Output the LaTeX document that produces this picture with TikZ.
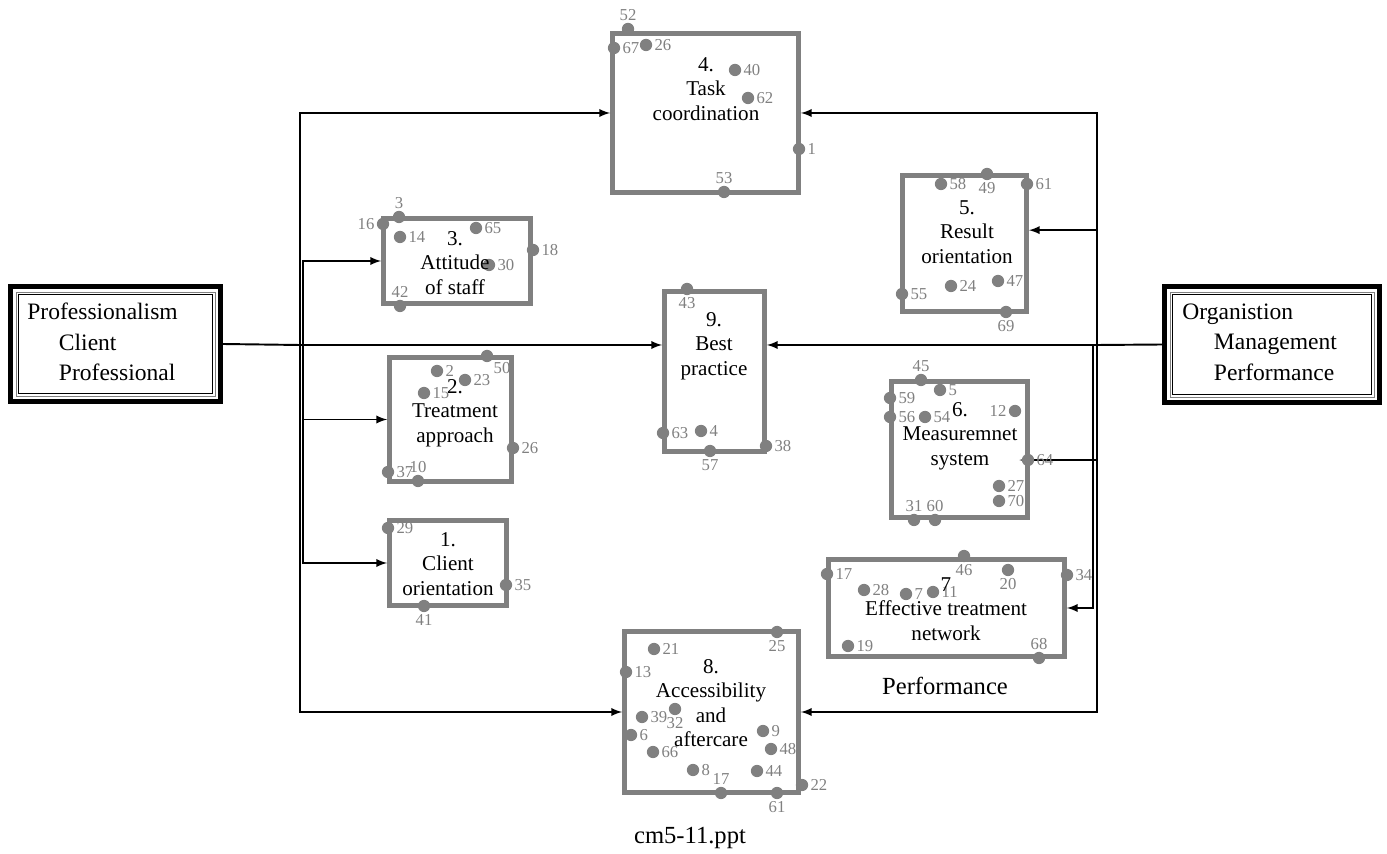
\documentclass[tikz,border=0pt]{standalone}
\usepackage{fontspec}
\setmainfont{Liberation Serif}
\definecolor{boxgray}{RGB}{128,128,128}

\begin{document}
\begin{tikzpicture}
[
	x=0.02cm,
	y=-0.02cm,
	>=latex,
	cbox/.style={draw=boxgray,line width=2.8pt,fill=white,inner sep=0pt},
	bigbox/.style={draw,line width=2.8pt,fill=white,inner sep=0pt},
	closedpt/.style={circle,fill=boxgray,inner sep=0pt,minimum size=7pt},
	numlab/.style={text=boxgray,font=\fontsize{9.5}{10}\selectfont,inner sep=1pt},
	ttl/.style={align=center,font=\fontsize{12}{14}\selectfont,inner sep=0pt},
	bigtxt/.style={align=left,font=\fontsize{13.4}{17.3}\selectfont,anchor=west,inner sep=0pt},
	conn/.style={line width=1.1pt}
]

	\useasboundingbox (0,0) rectangle (1387,854);

	% the nine areas
	\node[cbox,minimum width=3.72cm,minimum height=3.18cm] (b4) at (705.5,113) {};
	\node[cbox,minimum width=2.94cm,minimum height=1.70cm] (b3) at (457,261) {};
	\node[cbox,minimum width=2.44cm,minimum height=2.48cm] (b2) at (450.5,419.5) {};
	\node[cbox,minimum width=2.34cm,minimum height=1.70cm] (b1) at (448,563) {};
	\node[cbox,minimum width=2.00cm,minimum height=3.20cm] (b9) at (714.5,371.5) {};
	\node[cbox,minimum width=2.48cm,minimum height=2.72cm] (b5) at (964.5,243.5) {};
	\node[cbox,minimum width=2.72cm,minimum height=2.72cm] (b6) at (959.5,449.5) {};
	\node[cbox,minimum width=4.72cm,minimum height=1.94cm] (b7) at (946.5,608) {};
	\node[cbox,minimum width=3.48cm,minimum height=3.22cm] (b8) at (711.5,712) {};

	% the two sources
	\node[bigbox,minimum width=4.20cm,minimum height=2.30cm] (bigL) at (115.5,344) {};
	\draw[boxgray,line width=0.5pt] ([shift={(8,8)}]bigL.north west) rectangle ([shift={(-8,-8)}]bigL.south east);
	\draw[line width=0.6pt] ([shift={(10.5,10.5)}]bigL.north west) rectangle ([shift={(-10.5,-10.5)}]bigL.south east);
	\node[bigbox,minimum width=4.30cm,minimum height=2.32cm] (bigR) at (1272,344.5) {};
	\draw[boxgray,line width=0.5pt] ([shift={(8,8)}]bigR.north west) rectangle ([shift={(-8,-8)}]bigR.south east);
	\draw[line width=0.6pt] ([shift={(10.5,10.5)}]bigR.north west) rectangle ([shift={(-10.5,-10.5)}]bigR.south east);

	\node[bigtxt] (tL) at (27,342) {Professionalism\\\hspace*{18pt}Client\\\hspace*{18pt}Professional};
	\node[bigtxt] (tR) at (1182,342) {Organistion\\\hspace*{18pt}Management\\\hspace*{18pt}Performance};

	% connectors, left
	\coordinate (jL) at (300,345);
	\coordinate (jL2) at (303,345);
	\draw[conn] (bigL.east) -- (jL);
	\draw[conn,->] (jL) -- (jL -| b9.west);
	\draw[conn,->] (jL) |- (b4.west);
	\draw[conn,->] (jL) |- (b8.west);
	\draw[conn,->] (jL2) |- (b3.west);
	\draw[conn,->] (jL2) |- (b2.west);
	\draw[conn,->] (jL2) |- (b1.west);

	% connectors, right
	\coordinate (jR) at (1097,345);
	\coordinate (jR2) at (1093,345);
	\draw[conn] (bigR.west) -- (jR);
	\draw[conn,->] (jR) -- (jR -| b9.east);
	\draw[conn,->] (jR) |- (b4.east);
	\draw[conn,->] (jR) |- (b8.east);
	\draw[conn,->] (jR) |- ([yshift=7.6pt]b5.east);
	\draw[conn,->] (jR) |- ([xshift=-6pt,yshift=-6pt]b6.east);
	\draw[conn,->] (jR2) |- (b7.east);

	% items
	\foreach \x/\y/\n/\p [count=\i] in {628/29/52/above,614/48/67/right,646/45/26/right,735/70/40/right,748/98/62/right,799/149/1/right,724/192/53/above}
		\node[closedpt,label={[numlab]\p:\n}] (d4-\i) at (\x,\y) {};
	\foreach \x/\y/\n/\p [count=\i] in {399/217/3/above,383/224/16/left,400/237/14/right,476/228/65/right,489/265/30/right,533/250/18/right,400/306/42/above}
		\node[closedpt,label={[numlab]\p:\n}] (d3-\i) at (\x,\y) {};
	\foreach \x/\y/\n/\p [count=\i] in {487/356/50/below right,437/371/2/right,465/380/23/right,424/393/15/right,513/448/26/right,388/472/37/right,418/481/10/above}
		\node[closedpt,label={[numlab]\p:\n}] (d2-\i) at (\x,\y) {};
	\foreach \x/\y/\n/\p [count=\i] in {388/528/29/right,506/585/35/right,424/606/41/below}
		\node[closedpt,label={[numlab]\p:\n}] (d1-\i) at (\x,\y) {};
	\foreach \x/\y/\n/\p [count=\i] in {687/289/43/below,663/433/63/right,701/431/4/right,710/451/57/below,766/446/38/right}
		\node[closedpt,label={[numlab]\p:\n}] (d9-\i) at (\x,\y) {};
	\foreach \x/\y/\n/\p [count=\i] in {941/184/58/right,987/174/49/below,1027/184/61/right,902/294/55/right,951/286/24/right,998/281/47/right,1006/312/69/below}
		\node[closedpt,label={[numlab]\p:\n}] (d5-\i) at (\x,\y) {};
	\foreach \x/\y/\n/\p [count=\i] in {921/380/45/above,940/390/5/right,890/398/59/right,890/417/56/right,925/417/54/right,1015/411/12/left,1028/460/64/right,999/486/27/right,999/501/70/right,914/520/31/above,935/520/60/above}
		\node[closedpt,label={[numlab]\p:\n}] (d6-\i) at (\x,\y) {};
	\foreach \x/\y/\n/\p [count=\i] in {964/556/46/below,827/574/17/right,1008/570/20/below,1067/575/34/right,864/590/28/right,906/594/7/right,933/592/11/right,848/646/19/right,1039/658/68/above}
		\node[closedpt,label={[numlab]\p:\n}] (d7-\i) at (\x,\y) {};
	\foreach \x/\y/\n/\p [count=\i] in {777/632/25/below,654/649/21/right,626/672/13/right,642/717/39/right,675/709/32/below,631/735/6/right,763/731/9/right,771/749/48/right,653/752/66/right,693/770/8/right,757/771/44/right,721/793/17/above,777/793/61/below,802/785/22/right}
		\node[closedpt,label={[numlab]\p:\n}] (d8-\i) at (\x,\y) {};

	% area names
	\node[ttl] (t4) at (706,89) {4.\\Task\\coordination};
	\node[ttl] (t3) at (455,263) {3.\\Attitude\\of staff};
	\node[ttl] (t2) at (455,413) {2.\\Treatment\\approach};
	\node[ttl] (t1) at (448,564) {1.\\Client\\orientation};
	\node[ttl] (t9) at (714,346) {9.\\Best\\practice};
	\node[ttl] (t5) at (967,232) {5.\\Result\\orientation};
	\node[ttl] (t6) at (960,436) {6.\\Measuremnet\\system};
	\node[ttl] (t7) at (946,609) {7\\Effective treatment\\network};
	\node[ttl] (t8) at (711,703) {8.\\Accessibility\\and\\aftercare};

	\node[font=\fontsize{14}{16}\selectfont] (perf) at (945,686) {Performance};
	\node[font=\fontsize{14}{16}\selectfont] (fname) at (690,838) {cm5-11.ppt};

\end{tikzpicture}
\end{document}
